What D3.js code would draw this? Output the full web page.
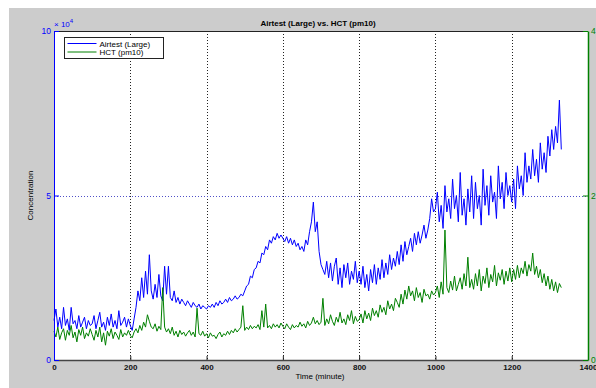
<!DOCTYPE html>
<html>
<head>
<meta charset="utf-8">
<script src="https://cdn.jsdelivr.net/npm/d3@7"></script>
<style>
  body { margin: 0; background: #fff; }
  svg { display: block; font-family: "Liberation Sans", Arial, sans-serif; }
  .axis text { font-size: 8px; font-weight: bold; }
  .label { font-size: 8px; }
</style>
</head>
<body>
<svg width="596" height="388"></svg>
<script>
// sample times (minute), one reading every 5 minutes
const minutes = d3.range(0, 1331, 5);

// Airtest (Large), in units of 10^4
const airtestLarge = [
  1.2, 1.55, 1.0, 1.3, 0.95, 1.6, 1.05, 1.25, 0.9, 1.6, 1.1, 1.2, 0.95, 1.35, 1.0, 1.15, 1.3, 0.95, 1.2, 1.05,
  1.1, 1.35, 0.95, 1.2, 1.45, 1.0, 1.15, 0.9, 1.3, 1.05, 1.4, 1.0, 1.2, 0.95, 1.5, 1.05, 1.15, 1.3, 1.0, 1.25,
  1.05, 0.9, 1.25, 1.6, 2.1, 1.8, 2.5, 1.9, 2.7, 2.0, 3.2, 2.1, 1.85, 2.3, 1.9, 2.6, 1.95, 1.8, 2.85, 2.0,
  2.85, 1.9, 1.8, 2.1, 1.75, 1.9, 1.7, 1.85, 1.75, 1.65, 1.8, 1.7, 1.6, 1.75, 1.65, 1.6, 1.7, 1.55, 1.65, 1.6,
  1.55, 1.65, 1.6, 1.7, 1.6, 1.75, 1.65, 1.8, 1.7, 1.75, 1.85, 1.75, 1.9, 1.8, 1.85, 1.95, 1.85, 1.9, 2.0, 1.95,
  2.1, 2.25, 2.3, 2.55, 2.5, 2.75, 2.8, 3.0, 2.95, 3.25, 3.2, 3.45, 3.35, 3.65, 3.55, 3.75, 3.65, 3.85, 3.7, 3.8,
  3.7, 3.6, 3.75, 3.55, 3.7, 3.5, 3.65, 3.45, 3.55, 3.35, 3.45, 3.3, 3.65, 3.5, 3.9, 4.2, 4.8, 3.9, 4.2, 3.3,
  2.9, 2.75, 2.6, 3.0, 2.5, 2.95, 2.4, 2.85, 3.1, 2.3, 2.8, 2.2, 2.9, 2.5, 2.95, 2.3, 2.7, 2.45, 3.0, 2.35,
  2.7, 2.3, 2.85, 2.2, 2.6, 2.1, 2.75, 2.35, 2.9, 2.3, 2.8, 2.45, 3.05, 2.5, 2.95, 2.6, 3.2, 2.75, 3.1, 2.85,
  3.3, 2.9, 3.5, 3.0, 3.6, 3.2, 3.45, 3.7, 3.3, 3.85, 3.5, 3.9, 3.55, 3.8, 4.1, 3.7, 3.95, 4.3, 4.9, 4.5,
  4.6, 5.1, 4.2, 4.7, 4.0, 5.3, 4.5, 4.9, 4.3, 5.5, 4.6, 5.0, 4.2, 5.7, 4.4, 4.9, 4.1, 5.2, 4.5, 5.6,
  4.3, 5.4, 4.6, 5.0, 4.1, 5.8, 4.7, 5.3, 4.4, 5.6, 4.8, 5.1, 4.3, 5.9, 4.9, 5.4, 4.6, 5.7, 5.0, 5.3,
  4.8, 5.5, 4.6, 5.9, 5.2, 5.6, 5.0, 6.3, 5.4, 5.9, 5.5, 6.4, 5.6, 6.1, 5.4, 6.6, 5.8, 6.3, 5.7, 6.8,
  6.2, 7.0, 6.4, 7.1, 6.6, 7.9, 6.4
];

// HCT (pm10), right axis
const hctPm10 = [
  0.35, 0.28, 0.4, 0.25, 0.33, 0.38, 0.24, 0.36, 0.3, 0.42, 0.27, 0.34, 0.22, 0.37, 0.3, 0.4, 0.26, 0.33, 0.29, 0.38,
  0.31, 0.24, 0.36, 0.28, 0.4, 0.22, 0.33, 0.18, 0.35, 0.29, 0.38, 0.26, 0.34, 0.3, 0.25, 0.37, 0.28, 0.33, 0.3, 0.36,
  0.3, 0.27, 0.34, 0.38, 0.33, 0.42, 0.36, 0.46, 0.4, 0.55, 0.47, 0.4, 0.38, 0.44, 0.35, 0.41, 0.37, 0.88, 0.4, 0.34,
  0.38, 0.32, 0.4, 0.3, 0.35, 0.28, 0.36, 0.31, 0.34, 0.29, 0.33, 0.36, 0.3, 0.34, 0.28, 0.63, 0.32, 0.3, 0.35, 0.29,
  0.32, 0.27, 0.33, 0.29, 0.3, 0.26, 0.31, 0.34, 0.28, 0.32, 0.3, 0.35, 0.31, 0.36, 0.33, 0.38, 0.34, 0.37, 0.4, 0.66,
  0.36, 0.4, 0.37, 0.42, 0.38, 0.41, 0.39, 0.43, 0.37, 0.6, 0.4, 0.68, 0.39, 0.42, 0.38, 0.44, 0.4, 0.43, 0.39, 0.45,
  0.41, 0.38, 0.44, 0.4, 0.37, 0.43, 0.39, 0.42, 0.4, 0.46, 0.41, 0.44, 0.39, 0.47, 0.42, 0.45, 0.52, 0.44, 0.48, 0.43,
  0.46, 0.75, 0.42, 0.5, 0.44, 0.55, 0.47, 0.42, 0.52, 0.46, 0.58, 0.45, 0.5, 0.43, 0.55, 0.48, 0.6, 0.44, 0.53, 0.47,
  0.49, 0.56, 0.45, 0.6, 0.5, 0.57, 0.48, 0.63, 0.54, 0.6, 0.52, 0.67, 0.58, 0.64, 0.55, 0.72, 0.62, 0.68, 0.6, 0.75,
  0.7, 0.64, 0.8, 0.68, 0.85, 0.74, 0.9, 0.78, 0.84, 0.72, 0.88, 0.76, 0.82, 0.7, 0.86, 0.78, 0.8, 0.74, 0.84, 0.79,
  0.82, 0.9, 0.76, 0.95, 0.8, 1.58, 0.88, 0.82, 0.96, 0.85, 1.02, 0.84, 0.92, 1.0, 0.86, 1.05, 0.9, 1.25, 0.88, 0.98,
  0.86, 1.05, 0.9, 1.1, 0.84, 1.02, 0.93, 1.12, 0.88, 1.04, 0.95, 1.15, 0.9, 1.06, 0.97, 1.1, 0.92, 1.08, 0.96, 1.12,
  0.95, 1.1, 0.98, 1.15, 1.0, 1.12, 1.05, 1.2, 1.02, 1.16, 1.08, 1.3, 1.04, 1.14, 1.0, 1.1, 0.94, 1.05, 0.9, 1.02,
  0.86, 0.98, 0.84, 0.95, 0.82, 0.93, 0.88
];

const xTicks = [0, 200, 400, 600, 800, 1000, 1200, 1400];
const leftTicks = [0, 5, 10];
const rightTicks = [0, 2, 4];
const seriesNames = ['Airtest (Large)', 'HCT (pm10)'];

const margin = {top: 31, right: 8, bottom: 28, left: 54};
const width = 596 - margin.left - margin.right;
const height = 388 - margin.top - margin.bottom;
const blue = '#0000ff';
const green = '#008000';

const svg = d3.select('svg');

// figure background
svg.append('rect')
  .attr('x', 9).attr('y', 8)
  .attr('width', 587).attr('height', 380)
  .attr('fill', '#cccccc');

const g = svg.append('g')
  .attr('transform', 'translate(' + margin.left + ',' + margin.top + ')');

g.append('rect')
  .attr('width', width).attr('height', height)
  .attr('fill', '#fff');

const x = d3.scaleLinear().domain([0, 1400]).range([0, width]);
const yLeft = d3.scaleLinear().domain([0, 10]).range([height, 0]);
const yRight = d3.scaleLinear().domain([0, 4]).range([height, 0]);

// grid
g.append('g')
  .selectAll('line')
  .data(xTicks.slice(1, -1))
  .join('line')
  .attr('x1', d => Math.round(x(d)) + 0.5).attr('x2', d => Math.round(x(d)) + 0.5)
  .attr('y1', 0).attr('y2', height)
  .attr('stroke', '#222')
  .attr('stroke-dasharray', '1,2');

g.append('line')
  .attr('x1', 0).attr('x2', width)
  .attr('y1', Math.round(yLeft(5)) + 0.5).attr('y2', Math.round(yLeft(5)) + 0.5)
  .attr('stroke', '#5050c8')
  .attr('stroke-dasharray', '1,2');

// series
const lineLeft = d3.line()
  .x((d, i) => x(minutes[i]))
  .y(d => yLeft(d));

const lineRight = d3.line()
  .x((d, i) => x(minutes[i]))
  .y(d => yRight(d));

g.append('path')
  .datum(airtestLarge)
  .attr('fill', 'none')
  .attr('stroke', blue)
  .attr('stroke-width', 1)
  .attr('d', lineLeft);

g.append('path')
  .datum(hctPm10)
  .attr('fill', 'none')
  .attr('stroke', green)
  .attr('stroke-width', 1)
  .attr('d', lineRight);

// axes
g.append('line')
  .attr('x1', 0).attr('x2', width)
  .attr('y1', 0.5).attr('y2', 0.5)
  .attr('stroke', '#222');

const xAxis = g.append('g')
  .attr('class', 'axis')
  .attr('transform', 'translate(0,' + height + ')')
  .call(d3.axisBottom(x).tickValues(xTicks).tickFormat(d3.format('d'))
    .tickSizeInner(-4).tickSizeOuter(0).tickPadding(4));
xAxis.select('.domain').attr('stroke', '#444').attr('stroke-width', 1.5);
xAxis.selectAll('.tick line').attr('stroke', '#222');
xAxis.selectAll('.tick text').attr('fill', '#111');

const leftAxis = g.append('g')
  .attr('class', 'axis')
  .call(d3.axisLeft(yLeft).tickValues(leftTicks).tickSizeInner(-5).tickSizeOuter(0).tickPadding(3));
leftAxis.select('.domain').attr('stroke', blue);
leftAxis.selectAll('.tick line').attr('stroke', blue);
leftAxis.selectAll('.tick text').attr('fill', blue).style('font-weight', 'normal').style('font-size', '8.5px');

const rightAxis = g.append('g')
  .attr('class', 'axis')
  .attr('transform', 'translate(' + width + ',0)')
  .call(d3.axisRight(yRight).tickValues(rightTicks).tickSizeInner(-5).tickSizeOuter(0).tickPadding(3));
rightAxis.select('.domain').attr('stroke', green).attr('stroke-width', 1.5);
rightAxis.selectAll('.tick line').attr('stroke', green);
rightAxis.selectAll('.tick text').attr('fill', green).style('font-weight', 'normal').style('font-size', '8.5px');

// exponent label
const expo = svg.append('text')
  .attr('class', 'label')
  .attr('x', 54).attr('y', 27)
  .attr('fill', blue);
expo.append('tspan').text('\u00d7 10');
expo.append('tspan').attr('dy', -4).style('font-size', '6px').text('4');

// title and labels
svg.append('text')
  .attr('x', 318).attr('y', 26)
  .attr('text-anchor', 'middle')
  .style('font-size', '8px')
  .style('font-weight', 'bold')
  .text('Airtest (Large) vs. HCT (pm10)');

svg.append('text')
  .attr('class', 'label')
  .attr('x', 320).attr('y', 379)
  .attr('text-anchor', 'middle')
  .text('Time (minute)');

svg.append('text')
  .attr('class', 'label')
  .attr('transform', 'translate(33,' + (margin.top + height / 2) + ') rotate(-90)')
  .attr('text-anchor', 'middle')
  .text('Concentration');

// legend
const legend = svg.append('g').attr('transform', 'translate(64.5,37.5)');
legend.append('rect')
  .attr('width', 99).attr('height', 21)
  .attr('fill', '#fff')
  .attr('stroke', '#222');

legend.selectAll('line')
  .data(seriesNames)
  .join('line')
  .attr('x1', 3).attr('x2', 32)
  .attr('y1', (d, i) => 6 + i * 8.5).attr('y2', (d, i) => 6 + i * 8.5)
  .attr('stroke', (d, i) => i === 0 ? blue : green);

legend.selectAll('text')
  .data(seriesNames)
  .join('text')
  .attr('class', 'label')
  .attr('x', 35)
  .attr('y', (d, i) => 9 + i * 8.5)
  .text(d => d);
</script>
</body>
</html>
